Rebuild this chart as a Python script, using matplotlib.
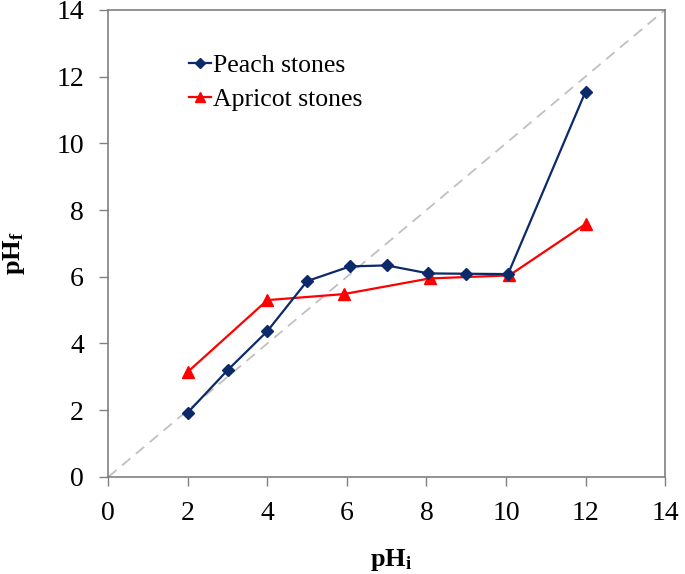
import numpy as np
import matplotlib
matplotlib.use("Agg")
import matplotlib.pyplot as plt

plt.rcParams['font.family'] = ['Liberation Serif', 'DejaVu Serif']
plt.rcParams['mathtext.fontset'] = 'custom'
plt.rcParams['mathtext.rm'] = 'Liberation Serif'
plt.rcParams['mathtext.bf'] = 'Liberation Serif:bold'
plt.rcParams['mathtext.it'] = 'Liberation Serif:italic'

# peach stones
ph_i_peach = [2, 3, 4, 5, 6.08, 7, 8.05, 9, 10.05, 12]
ph_f_peach = [1.93, 3.2, 4.37, 5.87, 6.31, 6.34, 6.1, 6.09, 6.08, 11.55]

# apricot stones
ph_i_apri = [2, 4, 5.92, 8.08, 10.08, 12]
ph_f_apri = [3.15, 5.3, 5.48, 5.95, 6.04, 7.58]

ticks = [0, 2, 4, 6, 8, 10, 12, 14]

fig = plt.figure(figsize=(6.85, 5.74), dpi=100)
ax = fig.add_axes([0.158, 0.169, 0.813, 0.814])

ax.plot([0, 14], [0, 14], color='#c0c0c0', ls=(0, (6, 4)), lw=1.3, zorder=1)
ax.plot(ph_i_peach, ph_f_peach, color='#0c2a6a', marker='D', ms=6.5, lw=1.6,
        label='Peach stones', zorder=3)
ax.plot(ph_i_apri, ph_f_apri, color='#ff0000', marker='^', ms=9, lw=1.6,
        label='Apricot stones', zorder=2)

ax.set_xlim(0, 14)
ax.set_ylim(0, 14)
ax.set_xticks(ticks)
ax.set_yticks(ticks)
ax.tick_params(direction='out', length=6.5, width=1, color='#808080',
               labelsize=20, pad=11)
for s in ax.spines.values():
    s.set_color('#808080')
    s.set_linewidth(1.2)

ax.set_xlabel(r'$\mathbf{pH_i}$', fontsize=19, va='center', ha='center')
ax.set_ylabel(r'$\mathbf{pH_f}$', fontsize=19, va='center', ha='center')
ax.xaxis.set_label_coords(0.508, -0.178)
ax.yaxis.set_label_coords(-0.169, 0.48)

ax.legend(loc='upper left', bbox_to_anchor=(0.103, 0.954), frameon=False,
          fontsize=18.5, handlelength=0.85, handletextpad=0.1,
          labelspacing=0.41, markerscale=0.8)

fig.savefig('out.png', dpi=100)
